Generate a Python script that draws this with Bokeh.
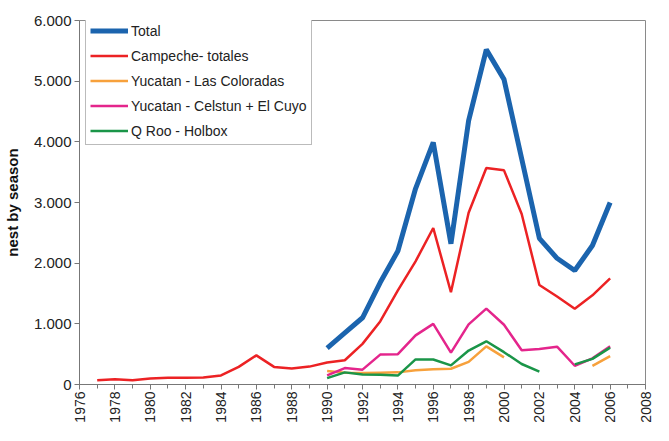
import math
from bokeh.plotting import figure
from bokeh.models import FixedTicker, Legend, LegendItem, Range1d
from bokeh.embed import file_html
from bokeh.resources import INLINE

# ---- data ----
years_main = [1990, 1991, 1992, 1993, 1994, 1995, 1996, 1997, 1998, 1999,
              2000, 2001, 2002, 2003, 2004, 2005, 2006]
total = [600, 850, 1100, 1680, 2200, 3230, 3990, 2320, 4350, 5520,
         5030, 3720, 2410, 2080, 1880, 2290, 3000]

years_campeche = [1977, 1978, 1979, 1980, 1981, 1982, 1983, 1984, 1985, 1986,
                  1987, 1988, 1989, 1990, 1991, 1992, 1993, 1994, 1995, 1996,
                  1997, 1998, 1999, 2000, 2001, 2002, 2003, 2004, 2005, 2006]
campeche = [70, 85, 70, 100, 110, 110, 115, 150, 290, 480,
            290, 265, 295, 362, 400, 670, 1040, 1550, 2030, 2580,
            1520, 2830, 3570, 3530, 2810, 1640, 1450, 1250, 1470, 1750]

las_coloradas = [224, 195, 190, 195, 200, 235, 250, 260, 373, 629,
                 448, float("nan"), float("nan"), float("nan"), float("nan"), 307, 469]
celestun_cuyo = [150, 270, 245, 493, 500, 810, 1000, 525, 990, 1250,
                 985, 565, 587, 623, 309, 432, 629]
holbox = [106, 200, 165, 160, 147, 413, 413, 315, 560, 712,
          533, 338, 213, float("nan"), 331, 423, 608]

series_names = ["Total", "Campeche- totales", "Yucatan - Las Coloradas",
                "Yucatan - Celstun + El Cuyo", "Q Roo - Holbox"]

x_major_ticks = [1976, 1978, 1980, 1982, 1984, 1986, 1988, 1990, 1992, 1994,
                 1996, 1998, 2000, 2002, 2004, 2006, 2008]
x_minor_ticks = [1976, 1977, 1978, 1979, 1980, 1981, 1982, 1983, 1984, 1985,
                 1986, 1987, 1988, 1989, 1990, 1991, 1992, 1993, 1994, 1995,
                 1996, 1997, 1998, 1999, 2000, 2001, 2002, 2003, 2004, 2005,
                 2006, 2007, 2008]
x_tick_labels = ["1976", "1978", "1980", "1982", "1984", "1986", "1988", "1990",
                 "1992", "1994", "1996", "1998", "2000", "2002", "2004", "2006", "2008"]
y_ticks = [0, 1000, 2000, 3000, 4000, 5000, 6000]
y_tick_labels = ["0", "1.000", "2.000", "3.000", "4.000", "5.000", "6.000"]
y_label = "nest by season"

# ---- styles ----
FONT = "Liberation Sans"
colors = ["#1b64ae", "#ec2224", "#f7a13c", "#e4258c", "#1a9548"]
widths = [5, 2.5, 2.5, 2.5, 2.5]

p = figure(width=653, height=425, output_backend="svg", toolbar_location=None,
           x_range=Range1d(1976, 2008), y_range=Range1d(0, 6000),
           min_border_left=77, min_border_right=8, min_border_top=20,
           min_border_bottom=38)
p.background_fill_color = "white"
p.border_fill_color = "white"
p.outline_line_color = "#8a8a8a"
p.outline_line_width = 1
p.xgrid.visible = False
p.ygrid.visible = False

renderers = []
renderers.append(p.line(years_main, total, line_color=colors[0], line_width=widths[0]))
renderers.append(p.line(years_campeche, campeche, line_color=colors[1], line_width=widths[1]))
renderers.append(p.line(years_main, las_coloradas, line_color=colors[2], line_width=widths[2]))
renderers.append(p.line(years_main, celestun_cuyo, line_color=colors[3], line_width=widths[3]))
renderers.append(p.line(years_main, holbox, line_color=colors[4], line_width=widths[4]))

# x axis
xa = p.xaxis[0]
xa.ticker = FixedTicker(ticks=x_major_ticks, minor_ticks=x_minor_ticks)
xa.major_label_overrides = {t: l for t, l in zip(x_major_ticks, x_tick_labels)}
xa.major_label_orientation = math.pi / 2
xa.major_label_text_font = FONT
xa.major_label_text_font_size = "14px"
xa.major_label_text_color = "#222222"
xa.major_label_standoff = 2
xa.axis_line_color = "#777777"
xa.major_tick_line_color = "#777777"
xa.minor_tick_line_color = "#777777"
xa.major_tick_in = 0
xa.major_tick_out = 5
xa.minor_tick_in = 0
xa.minor_tick_out = 4

# y axis
ya = p.yaxis[0]
ya.ticker = FixedTicker(ticks=y_ticks, minor_ticks=[])
ya.major_label_overrides = {t: l for t, l in zip(y_ticks, y_tick_labels)}
ya.major_label_text_font = FONT
ya.major_label_text_font_size = "15px"
ya.major_label_text_color = "#222222"
ya.major_label_standoff = 3
ya.axis_line_color = "#777777"
ya.major_tick_line_color = "#777777"
ya.major_tick_in = 0
ya.major_tick_out = 5
ya.axis_label = y_label
ya.axis_label_text_font = FONT
ya.axis_label_text_font_style = "bold"
ya.axis_label_text_font_size = "15px"
ya.axis_label_text_color = "#111111"
ya.axis_label_standoff = 10

items = [LegendItem(label=n, renderers=[rr]) for n, rr in zip(series_names, renderers)]
legend = Legend(items=items, location=(6, 239), orientation="vertical")
legend.padding = 4
legend.spacing = 6
legend.glyph_height = 19
legend.glyph_width = 38
legend.label_standoff = 3
legend.label_text_font = FONT
legend.label_text_font_size = "14px"
legend.label_text_color = "#222222"
legend.border_line_color = "#777777"
legend.border_line_width = 1
legend.background_fill_color = "white"
legend.background_fill_alpha = 1
legend.margin = 0
p.add_layout(legend, "center")

open("out.html", "w").write(file_html(p, INLINE))
